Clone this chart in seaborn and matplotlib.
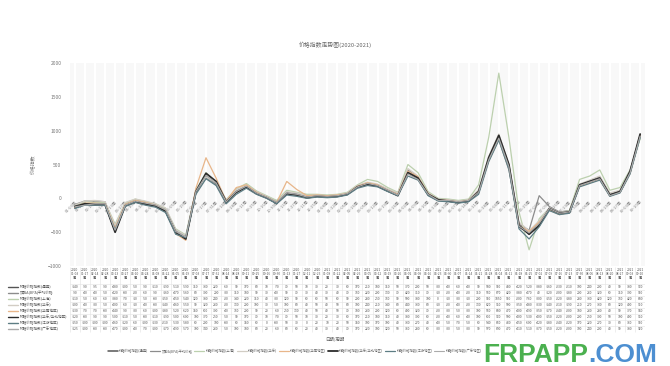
import numpy as np
import pandas as pd
import matplotlib
matplotlib.use("Agg")
import matplotlib.pyplot as plt
import matplotlib.transforms as mtrans
import seaborn as sns

sns.set_style("white")
plt.rcParams['font.family'] = ['Noto Sans CJK SC', 'DejaVu Sans']

# dates (category axis)
dates_2020 = ["01-03", "01-17", "02-14", "02-28", "03-13", "03-27", "04-10", "04-24",
              "05-08", "05-22", "06-05", "06-19", "07-03", "07-17", "07-31", "08-14",
              "08-28", "09-11", "09-25", "10-16", "10-30", "11-13", "11-27", "12-11", "12-25"]
dates_2021 = ["01-08", "01-22", "02-05", "02-26", "03-05", "03-12", "03-19", "03-26",
              "04-02", "04-09", "04-16", "04-23", "04-30", "05-07", "05-14", "05-21",
              "05-28", "06-04", "06-11", "06-18", "06-25", "07-02", "07-09", "07-16",
              "07-23", "07-30", "08-06", "08-13", "08-20", "08-27", "09-03", "09-10"]
years = ["2020"] * len(dates_2020) + ["2021"] * len(dates_2021)
days = dates_2020 + dates_2021

series_names = ["树脂价格指数(通用)", "双酚A(BPA)平均价格", "树脂价格指数(上海)",
                "树脂价格指数(华东)", "树脂价格指数(华南地区)", "树脂价格指数(华东/华北地区)",
                "树脂价格指数(江浙地区)", "树脂价格指数(广东地区)"]
series_colors = ["#555555", "#8c8c8c", "#bcd0ae", "#d2cdc4",
                 "#e8b68a", "#2b2b2b", "#5d7d84", "#ababab"]
series_widths = [1.1, 0.9, 0.9, 0.9, 0.9, 1.3, 0.9, 0.8]

s1 = [-140, -90, -95, -90, -480, -100, -50, -90, -110, -190,
      -510, -590, 110, 330, 220, -60, 90, 170, 80, 10,
      -70, 70, 50, 10, 30, 20, 30, 60, 170, 210,
      180, 110, 50, 370, 290, 50, -30, -40, -60, -40,
      90, 580, 900, 480, -420, -520, -380, -160, -230, -210,
      190, 240, 290, 40, 90, 380, 930]
s2 = [-90, -40, -40, -50, -420, -80, -20, -60, -90, -160,
      -470, -560, 80, 300, 200, -30, 110, 180, 90, 30,
      -40, 90, 70, 30, 40, 30, 40, 70, 160, 220,
      200, 130, 70, 420, 310, 70, -10, -20, -40, -20,
      110, 560, 870, 420, -380, -470, 40, -120, -200, -180,
      200, 260, 320, 60, 110, 390, 900]
s3 = [-110, -50, -60, -60, -380, -70, -10, -50, -80, -150,
      -450, -540, 120, 380, 240, -20, 140, 220, 110, 40,
      -30, 120, 90, 60, 60, 50, 60, 90, 200, 280,
      250, 160, 90, 500, 380, 100, 0, -10, -30, -10,
      200, 900, 1850, 900, -200, -760, -300, -150, -220, -180,
      280, 330, 420, 120, 160, 420, 880]
s4 = [-100, -40, -30, -50, -400, -60, -10, -40, -80, -140,
      -460, -550, 90, 320, 230, -20, 130, 200, 100, 30,
      -50, 100, 80, 40, 50, 40, 50, 80, 190, 240,
      210, 140, 80, 440, 330, 80, -10, -20, -40, -20,
      130, 620, 950, 500, -350, -480, -330, -140, -210, -190,
      210, 270, 330, 80, 120, 400, 910]
s5 = [-130, -70, -70, -80, -440, -90, -30, -60, -100, -180,
      -520, -620, 150, 600, 300, -40, 160, 200, 90, 20,
      -60, 250, 130, 40, 50, 40, 50, 70, 180, 230,
      200, 120, 60, 400, 320, 70, -20, -30, -50, -30,
      100, 560, 880, 470, -400, -490, -350, -170, -240, -200,
      180, 230, 280, 40, 90, 370, 940]
s6 = [-120, -80, -90, -90, -500, -110, -50, -80, -110, -190,
      -500, -600, 100, 370, 250, -50, 90, 170, 70, 10,
      -70, 70, 50, 10, 30, 20, 30, 60, 170, 210,
      180, 110, 40, 380, 300, 60, -20, -40, -60, -40,
      100, 600, 930, 500, -400, -530, -400, -150, -220, -200,
      200, 250, 300, 50, 100, 400, 950]
s7 = [-150, -100, -100, -100, -460, -120, -60, -100, -130, -210,
      -530, -580, 60, 290, 190, -80, 60, 150, 60, 0,
      -80, 50, 30, 0, 20, 10, 20, 50, 150, 190,
      170, 100, 40, 330, 270, 40, -40, -50, -70, -50,
      60, 540, 860, 430, -450, -600, -420, -180, -240, -220,
      170, 220, 270, 30, 80, 360, 900]
s8 = [-125, -100, -80, -80, -470, -100, -40, -70, -100, -170,
      -490, -570, 100, 340, 230, -50, 100, 180, 80, 20,
      -60, 80, 60, 20, 40, 30, 40, 70, 170, 220,
      190, 120, 50, 360, 280, 60, -30, -30, -50, -30,
      90, 570, 890, 470, -410, -510, -370, -150, -220, -200,
      190, 240, 290, 40, 90, 380, 920]
all_series = [s1, s2, s3, s4, s5, s6, s7, s8]

n = len(days)
idx = np.arange(n)

fig = plt.figure(figsize=(6.7, 3.66), dpi=100)
ax = fig.add_axes([0.104, 0.273, 0.859, 0.555])
ax.set_facecolor("#f8f8f8")

for name, vals, c, lw in zip(series_names, all_series, series_colors, series_widths):
    sns.lineplot(x=idx, y=vals, ax=ax, color=c, linewidth=lw, label=name, legend=False)

ax.set_xlim(-0.5, n - 0.5)
ax.set_ylim(-1000, 2000)
ax.set_yticks([-1000, -500, 0, 500, 1000, 1500, 2000])
ax.tick_params(axis='y', labelsize=3.5, colors="#777777", length=0, pad=6)
for sp in ax.spines.values():
    sp.set_visible(False)
ax.spines['bottom'].set_position(('data', 0))
ax.set_xticks(idx)
ax.set_xticklabels([d + "周" for d in days], rotation=45, fontsize=3,
                   color="#888888", ha='right', rotation_mode='anchor')
ax.tick_params(axis='x', length=0, pad=1)
ax.set_ylabel("价格指数", fontsize=3.5, color="#777777", labelpad=8)
ax.xaxis.grid(True, color="#ffffff", linewidth=1.5)

fig.text(0.5, 0.872, "价格指数走势图(2020-2021)", fontsize=4.2, color="#666666", ha='center')

# data table under the chart
tab = fig.add_axes([0.104, 0.09, 0.859, 0.18])
tab.set_xlim(-0.5, n - 0.5)
tab.set_ylim(8.67, -2.33)
tab.axis('off')
for i in idx:
    tab.text(i, -1.2, years[i] + "\n" + days[i] + "\n周", fontsize=2.3,
             ha='center', va='center', color="#555555", linespacing=1.1)
    tab.vlines(i - 0.5, -2.33, 8.5, color="#e2e2e2", linewidth=0.4)
row_tr = mtrans.blended_transform_factory(fig.transFigure, tab.transData)
for r, (name, vals, c) in enumerate(zip(series_names, all_series, series_colors)):
    y = r + 1
    tab.hlines(y - 0.5, -0.5, n - 0.5, color="#e2e2e2", linewidth=0.4)
    for i in idx:
        tab.text(i, y, str(vals[i]), fontsize=2.4, ha='center', va='center', color="#555555")
    tab.text(0.03, y, name, fontsize=2.6, ha='left', va='center', color="#555555",
             transform=row_tr)
    tab.plot([0.012, 0.027], [y, y], color=c, linewidth=1.0, clip_on=False,
             transform=row_tr)

fig.text(0.5, 0.068, "日期/周期", fontsize=3.2, color="#666666", ha='center')

handles, labels = ax.get_legend_handles_labels()
fig.legend(handles, labels, loc='center', bbox_to_anchor=(0.44, 0.04), ncol=8,
           fontsize=2.4, frameon=False, handlelength=3.0, handletextpad=0.4,
           columnspacing=0.5, labelcolor="#666666")

# watermark
wm = fig.text(0.722, 0.012, "FRPAPP", fontsize=19, color="#4bb04f", fontweight='bold',
              family='Liberation Sans')
plt.annotate(".COM", xy=(1, 0), xycoords=wm, xytext=(0, 0), textcoords='offset points',
             fontsize=19, color="#4d8fd1", fontweight='bold', family='Liberation Sans',
             va='bottom', ha='left')

fig.savefig("out.png", dpi=100)
